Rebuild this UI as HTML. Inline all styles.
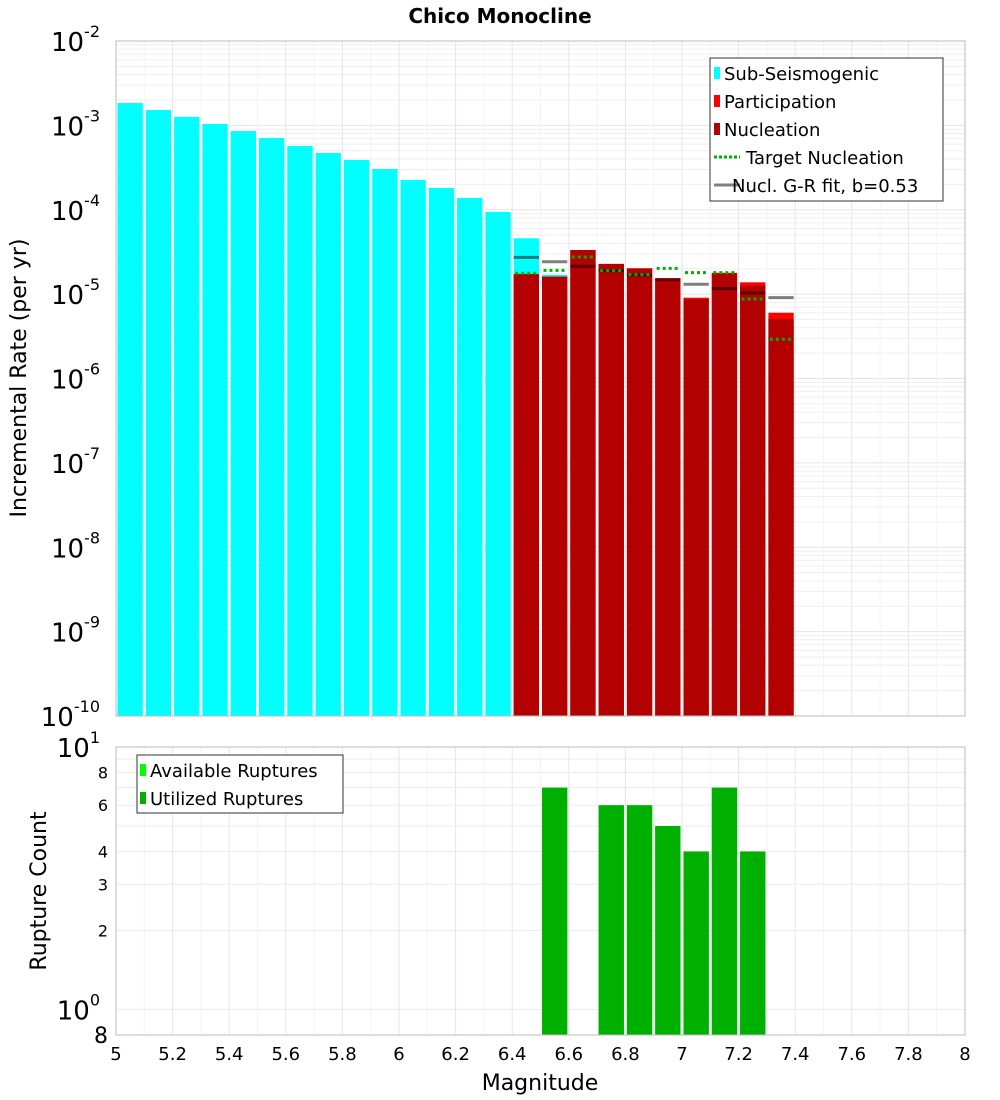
<!DOCTYPE html>
<html><head><meta charset="utf-8"><style>
body{margin:0;background:#fff;}
svg{display:block;font-family:"DejaVu Sans","Liberation Sans",sans-serif;}
</style></head><body>
<svg id="chart" width="1000" height="1100" xmlns="http://www.w3.org/2000/svg">
<rect width="1000" height="1100" fill="#fff"/>
<text x="500" y="23" text-anchor="middle" font-size="20" font-weight="bold">Chico Monocline</text>
<g id="topplot"></g>
<g id="botplot"></g>
<text transform="translate(26,378) rotate(-90)" text-anchor="middle" font-size="22">Incremental Rate (per yr)</text>
<text transform="translate(46,891) rotate(-90)" text-anchor="middle" font-size="22">Rupture Count</text>
<text x="540" y="1090" text-anchor="middle" font-size="22">Magnitude</text>
</svg>
<script>
const subMags=[5.05,5.15,5.25,5.35,5.45,5.55,5.65,5.75,5.85,5.95,6.05,6.15,6.25,6.35,6.45,6.55];
const subRates=[1.84e-3,1.52e-3,1.26e-3,1.04e-3,8.57e-4,7.08e-4,5.70e-4,4.71e-4,3.89e-4,3.04e-4,2.25e-4,1.81e-4,1.38e-4,9.4e-5,4.59e-5,1.69e-5];
const supMags=[6.45,6.55,6.65,6.75,6.85,6.95,7.05,7.15,7.25,7.35];
const partRates=[1.73e-5,1.61e-5,3.33e-5,2.28e-5,2.02e-5,1.55e-5,9.07e-6,1.79e-5,1.38e-5,6.02e-6];
const nuclRates=[1.73e-5,1.61e-5,3.33e-5,2.28e-5,2.02e-5,1.50e-5,8.75e-6,1.77e-5,1.26e-5,5.03e-6];
const targetRates=[1.77e-5,1.91e-5,2.75e-5,1.90e-5,1.70e-5,2.02e-5,1.80e-5,1.80e-5,8.75e-6,2.92e-6];
const grRates=[2.73e-5,2.42e-5,2.14e-5,1.89e-5,1.68e-5,1.48e-5,1.31e-5,1.16e-5,1.03e-5,9.1e-6];
const cntMags=[6.55,6.75,6.85,6.95,7.05,7.15,7.25];
const availCounts=[7,6,6,5,4,7,4];
const usedCounts=[7,6,6,5,4,7,4];
const xTicks=["5","5.2","5.4","5.6","5.8","6","6.2","6.4","6.6","6.8","7","7.2","7.4","7.6","7.8","8"];

const NS="http://www.w3.org/2000/svg";
const L=116,R=965,T1=41,B1=716,T2=747,B2=1035;
const x=m=>L+(m-5)/3*(R-L);
const y1=v=>T1+(-2-Math.log10(v))/8*(B1-T1);
const y2=v=>T2+(1-Math.log10(v))/(1-Math.log10(0.8))*(B2-T2);
function el(p,t,a,txt){const e=document.createElementNS(NS,t);for(const k in a)e.setAttribute(k,a[k]);if(txt!=null)e.textContent=txt;p.appendChild(e);return e;}
const topG=document.getElementById('topplot'),botG=document.getElementById('botplot');

for(let d=-10;d<-2;d++)for(let k=1;k<10;k++){const yy=y1(k*Math.pow(10,d));const g=el(topG,'line',{x1:L,x2:R,y1:yy,y2:yy,stroke:k==1?'#e4e4e4':'#efefef','stroke-width':1});

}
for(let i=0;i<=30;i++){const xx=x(5+i*0.1);const g=el(topG,'line',{x1:xx,x2:xx,y1:T1,y2:B1,stroke:i%2?'#f3f3f3':'#e6e6e6'});


const g2=el(botG,'line',{x1:xx,x2:xx,y1:T2,y2:B2,stroke:i%2?'#f3f3f3':'#e6e6e6'});

}
[1,2,3,4,5,6,7,8,9,10].forEach(v=>{const yy=y2(v);const g=el(botG,'line',{x1:L,x2:R,y1:yy,y2:yy,stroke:'#ebebeb'});

});

const bw=m=>x(m+0.05)-x(m-0.05);
subMags.forEach((m,i)=>{const r=el(topG,'rect',{x:x(m-0.05)+1.5,y:y1(subRates[i]),width:bw(m)-3,height:B1-y1(subRates[i]),fill:'#00ffff'});

});
supMags.forEach((m,i)=>{const r=el(topG,'rect',{x:x(m-0.05)+1.5,y:y1(partRates[i]),width:bw(m)-3,height:B1-y1(partRates[i]),fill:'#ff0000'});


const n=el(topG,'rect',{x:x(m-0.05)+1.5,y:y1(nuclRates[i]),width:bw(m)-3,height:B1-y1(nuclRates[i]),fill:'#b30000'});

});
supMags.forEach((m,i)=>{const g=el(topG,'line',{x1:x(m-0.05)+1.5,x2:x(m+0.05)-1.5,y1:y1(grRates[i]),y2:y1(grRates[i]),stroke:'#000','stroke-opacity':0.5,'stroke-width':3});


const t=el(topG,'line',{x1:x(m-0.05)+3,x2:x(m+0.05)-3,y1:y1(targetRates[i]),y2:y1(targetRates[i]),stroke:'#00b000','stroke-width':3,'stroke-dasharray':'3,3'});

});
el(topG,'rect',{x:L,y:T1,width:R-L,height:B1-T1,fill:'none',stroke:'#bbb'});
for(let d=-10;d<=-2;d++){const t=el(topG,'text',{x:100,y:y1(Math.pow(10,d))+10,'text-anchor':'end','font-size':26});


t.textContent='10';el(t,'tspan',{dy:-14,'font-size':16},String(d));}

const lg=el(topG,'g',{});


el(lg,'rect',{x:710,y:58,width:233,height:143,fill:'#fff',stroke:'#333'});
const items=[['Sub-Seismogenic','#00ffff','box'],['Participation','#ff0000','box'],['Nucleation','#b30000','box'],['Target Nucleation','#00b000','dash'],['Nucl. G-R fit, b=0.53','#808080','line']];
items.forEach((it,i)=>{const yy=73+i*28;const g=el(lg,'g',{});


if(it[2]=='box'){el(g,'rect',{x:714,y:yy-6,width:6,height:12,fill:it[1]});el(g,'text',{x:724,y:yy+7,'font-size':18},it[0]);}
else{el(g,'line',{x1:714,x2:740,y1:yy,y2:yy,stroke:it[1],'stroke-width':3,'stroke-dasharray':it[2]=='dash'?'3,2':'none'});el(g,'text',{x:it[2]=='dash'?746:732,y:yy+7,'font-size':18},it[0]);}});

cntMags.forEach((m,i)=>{const a=el(botG,'rect',{x:x(m-0.05)+1.5,y:y2(availCounts[i]),width:bw(m)-3,height:B2-y2(availCounts[i]),fill:'#00ff00'});


const u=el(botG,'rect',{x:x(m-0.05)+1.5,y:y2(usedCounts[i]),width:bw(m)-3,height:B2-y2(usedCounts[i]),fill:'#00b000'});

});
el(botG,'rect',{x:L,y:T2,width:R-L,height:B2-T2,fill:'none',stroke:'#bbb'});
[8,6,4,3,2].forEach(v=>{const t=el(botG,'text',{x:108,y:y2(v)+6,'text-anchor':'end','font-size':16},String(v));

});
{const t=el(botG,'text',{x:100,y:y2(10)+10,'text-anchor':'end','font-size':26});


t.textContent='10';el(t,'tspan',{dy:-14,'font-size':16},'1');
const t2=el(botG,'text',{x:100,y:y2(1)+10,'text-anchor':'end','font-size':26});


t2.textContent='10';el(t2,'tspan',{dy:-14,'font-size':16},'0');
const t3=el(botG,'text',{x:108,y:B2+8,'text-anchor':'end','font-size':22},'8');

}
const lg2=el(botG,'g',{});


el(lg2,'rect',{x:137,y:755,width:206,height:58,fill:'#fff',stroke:'#333'});
[['Available Ruptures','#00ff00'],['Utilized Ruptures','#00b000']].forEach((it,i)=>{const yy=770+i*28;const g=el(lg2,'g',{});


el(g,'rect',{x:140,y:yy-6,width:6,height:12,fill:it[1]});el(g,'text',{x:150,y:yy+7,'font-size':18},it[0]);});
xTicks.forEach(s=>{const t=el(botG,'text',{x:x(parseFloat(s)),y:1060,'text-anchor':'middle','font-size':18},s);

});
</script>
</body></html>
